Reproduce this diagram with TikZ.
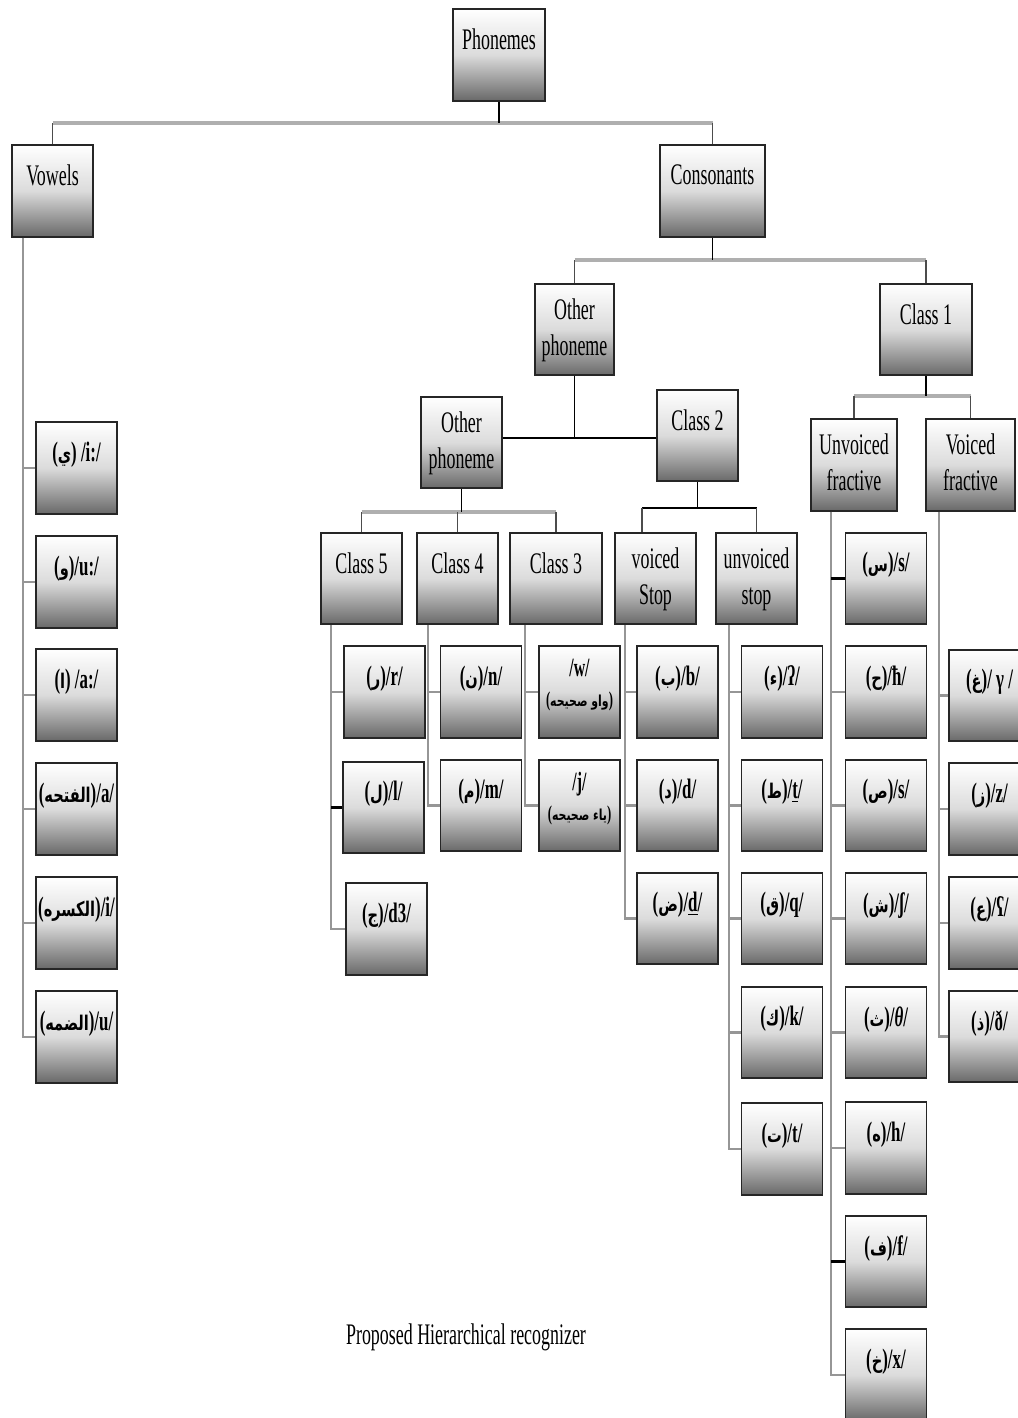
\documentclass[tikz,border=0pt]{standalone}
\usepackage{fontspec}
\setmainfont[FakeStretch=0.6]{Liberation Serif}
\newfontfamily\arabicfont[Script=Arabic, Scale=0.72, FakeStretch=0.72]{DejaVu Sans}
\TeXXeTstate=1
\usetikzlibrary{calc}
\definecolor{linegray}{RGB}{150,150,150}
\definecolor{bargray}{RGB}{175,175,175}
\definecolor{boxdark}{RGB}{105,105,105}
\newcommand{\arab}[1]{{\arabicfont\beginR #1\endR}}

\begin{document}
\begin{tikzpicture}[
  x=0.02cm, y=-0.02cm,
  box/.style={draw=black!85, line width=0.9pt, top color=white,
    bottom color=boxdark, middle color=black!14,
    minimum width=1.62cm, minimum height=1.83cm, inner sep=0pt},
  tag/.style={anchor=north, yshift=-0.33cm, align=center, inner sep=2pt,
    font=\fontsize{17}{20.5}\selectfont},
  tagtwo/.style={tag, yshift=0.1cm},
  leaftag/.style={tag, font=\fontsize{16}{19}\selectfont\bfseries},
  pairtag/.style={tag, yshift=0.14cm, font=\fontsize{15}{17}\selectfont\bfseries},
  bar/.style={draw=bargray, line width=2.2pt},
  stem/.style={draw=black, line width=0.8pt},
  drop/.style={draw=black!70, line width=0.8pt},
  rail/.style={draw=linegray, line width=1.3pt},
]
\clip[use as bounding box] (0,0) rectangle (1018,1418);
\fill[white] (0,0) rectangle (1018,1418);

% ---- upper levels ----
\node[box, minimum width=1.84cm, label={[tag]north:Phonemes}] (phon) at (499,55) {};
\node[box, label={[tag]north:Vowels}] (vow) at (52.5,191) {};
\node[box, minimum width=2.1cm, label={[tag]north:Consonants}] (cons) at (712.5,191) {};
\node[box, minimum width=1.58cm, label={[tagtwo]north:Other\\phoneme}] (oph1) at (574.5,329.5) {};
\node[box, minimum width=1.84cm, label={[tag]north:Class 1}] (cl1) at (926,329.5) {};
\node[box, label={[tagtwo]north:Other\\phoneme}] (oph2) at (461.5,442.5) {};
\node[box, label={[tag]north:Class 2}] (cl2) at (697.5,435.5) {};
\node[box, label={[tag]north:Class 5}] (cl5) at (361.5,578.5) {};
\node[box, label={[tag]north:Class 4}] (cl4) at (457.5,578.5) {};
\node[box, minimum width=1.84cm, label={[tag]north:Class 3}] (cl3) at (556,578.5) {};
\node[box, label={[tagtwo]north:voiced\\Stop}] (vst) at (655.5,578.5) {};
\node[box, label={[tagtwo]north:unvoiced\\stop}] (ust) at (756.5,578.5) {};
\node[box, minimum width=1.72cm, label={[tagtwo]north:Unvoiced\\fractive}] (ufr) at (854,465) {};
\node[box, minimum width=1.78cm, label={[tagtwo]north:Voiced\\fractive}] (vfr) at (970.5,465) {};

% ---- vowels ----
\node[box, label={[leaftag]north:(\arab{ي}) /i:/}] (v1) at (76.5,468) {};
\node[box, label={[leaftag]north:(\arab{و})/u:/}] (v2) at (76.5,582) {};
\node[box, label={[leaftag]north:(\arab{ا}) /a:/}] (v3) at (76.5,695) {};
\node[box, label={[leaftag]north:(\arab{الفتحه})/a/}] (v4) at (76.5,809) {};
\node[box, label={[leaftag]north:(\arab{الكسره})/i/}] (v5) at (76.5,923) {};
\node[box, label={[leaftag]north:(\arab{الضمه})/u/}] (v6) at (76.5,1037) {};

% ---- class 5 / 4 / 3 ----
\node[box, label={[leaftag]north:(\arab{ر})/r/}] (c5a) at (384.5,692) {};
\node[box, label={[leaftag]north:(\arab{ل})/l/}] (c5b) at (383.5,807.5) {};
\node[box, label={[leaftag]north:(\arab{ج})/d3/}] (c5c) at (386.5,929) {};
\node[box, label={[leaftag]north:(\arab{ن})/n/}] (c4a) at (481,692) {};
\node[box, label={[leaftag]north:(\arab{م})/m/}] (c4b) at (481,805.5) {};
\node[box, label={[pairtag]north:/w/\\{\fontsize{12}{14}\selectfont({\arabicfont\beginR واو صحيحه\endR})}}] (c3a) at (579.5,692) {};
\node[box, label={[pairtag]north:/j/\\{\fontsize{12}{14}\selectfont({\arabicfont\beginR ياء صحيحه\endR})}}] (c3b) at (579.5,805.5) {};

% ---- stops ----
\node[box, label={[leaftag]north:(\arab{ب})/b/}] (vsa) at (677.5,692) {};
\node[box, label={[leaftag]north:(\arab{د})/d/}] (vsb) at (677.5,805.5) {};
\node[box, label={[leaftag]north:(\arab{ض})/\underline{d}/}] (vsc) at (677.5,918.5) {};
\node[box, label={[leaftag]north:(\arab{ء})/ʔ/}] (usa) at (782,692) {};
\node[box, label={[leaftag]north:(\arab{ط})/\underline{t}/}] (usb) at (782,805.5) {};
\node[box, label={[leaftag]north:(\arab{ق})/q/}] (usc) at (782,918.5) {};
\node[box, label={[leaftag]north:(\arab{ك})/k/}] (usd) at (782,1032.5) {};
\node[box, label={[leaftag]north:(\arab{ت})/t/}] (use) at (782,1149) {};

% ---- fricatives ----
\node[box, label={[leaftag]north:(\arab{س})/s/}] (ufa) at (886,578.5) {};
\node[box, label={[leaftag]north:(\arab{ح})/ħ/}] (ufb) at (886,692) {};
\node[box, label={[leaftag]north:(\arab{ص})/s/}] (ufc) at (886,805.5) {};
\node[box, label={[leaftag]north:(\arab{ش})/ʃ/}] (ufd) at (886,918.5) {};
\node[box, label={[leaftag]north:(\arab{ث})/\textit{θ}/}] (ufe) at (886,1032.5) {};
\node[box, label={[leaftag]north:(\arab{ه})/h/}] (uff) at (886,1148) {};
\node[box, label={[leaftag]north:(\arab{ف})/f/}] (ufg) at (886,1261.5) {};
\node[box, label={[leaftag]north:(\arab{خ})/x/}] (ufh) at (886,1375) {};
\node[box, label={[leaftag]north:(\arab{غ})/ γ /}] (vfa) at (989.5,695.5) {};
\node[box, label={[leaftag]north:(\arab{ز})/z/}] (vfb) at (989.5,809) {};
\node[box, label={[leaftag]north:(\arab{ع})/ʕ/}] (vfc) at (989.5,923) {};
\node[box, label={[leaftag]north:(\arab{ذ})/ð/}] (vfd) at (989.5,1036.5) {};

\node[font=\fontsize{17}{20}\selectfont] (title) at (466,1337) {Proposed Hierarchical recognizer};

% ---- tree links ----
\coordinate (b0) at (0,123);
\draw[bar] (vow.north |- b0) -- (cons.north |- b0);
\draw[stem] (phon.south) -- (phon.south |- b0);
\draw[drop] (vow.north) -- (vow.north |- b0);
\draw[drop] (cons.north) -- (cons.north |- b0);

\coordinate (b1) at (0,260);
\draw[bar] (oph1.north |- b1) -- (cl1.north |- b1);
\draw[stem] (cons.south) -- (cons.south |- b1);
\draw[drop] (oph1.north) -- (oph1.north |- b1);
\draw[drop] (cl1.north) -- (cl1.north |- b1);

\coordinate (jn) at (574.5,438);
\draw[stem, line width=1.3pt] (oph2.east |- jn) -- (cl2.west |- jn);
\draw[stem] (oph1.south) -- (jn);

\coordinate (b2) at (0,512);
\draw[bar] (cl5.north |- b2) -- (cl3.north |- b2);
\draw[stem] (oph2.south) -- (oph2.south |- b2);
\draw[drop] (cl5.north) -- (cl5.north |- b2);
\draw[drop] (cl4.north) -- (cl4.north |- b2);
\draw[drop] (cl3.north) -- (cl3.north |- b2);

\coordinate (b3) at (0,508);
\coordinate (vtop) at ($(vst.north)+(-13.5,0)$);
\draw[stem] (vtop |- b3) -- (ust.north |- b3);
\draw[stem] (cl2.south) -- (cl2.south |- b3);
\draw[drop] (vtop) -- (vtop |- b3);
\draw[drop] (ust.north) -- (ust.north |- b3);

\coordinate (b4) at (0,396);
\draw[bar] (ufr.north |- b4) -- (vfr.north |- b4);
\draw[stem] (cl1.south) -- (cl1.south |- b4);
\draw[drop] (ufr.north) -- (ufr.north |- b4);
\draw[drop] (vfr.north) -- (vfr.north |- b4);

% ---- leaf rails ----
\coordinate (tv) at ($(vow.south west)+(12,0)$);
\draw[rail] (tv) |- (v6.west);
\draw[rail] (v1.west) -- (v1.west -| tv);
\draw[rail] (v2.west) -- (v2.west -| tv);
\draw[rail] (v3.west) -- (v3.west -| tv);
\draw[rail] (v4.west) -- (v4.west -| tv);
\draw[rail] (v5.west) -- (v5.west -| tv);

\coordinate (t5) at ($(cl5.south west)+(11,0)$);
\draw[rail] (t5) |- (c5c.west);
\draw[rail] (c5a.west) -- (c5a.west -| t5);
\draw[rail, draw=black] (c5b.west) -- (c5b.west -| t5);

\coordinate (t4) at ($(cl4.south west)+(12,0)$);
\draw[rail] (t4) |- (c4b.west);
\draw[rail] (c4a.west) -- (c4a.west -| t4);

\coordinate (t3) at ($(cl3.south west)+(16,0)$);
\draw[rail] (t3) |- (c3b.west);
\draw[rail] (c3a.west) -- (c3a.west -| t3);

\coordinate (tvs) at ($(vst.south west)+(11,0)$);
\draw[rail] (tvs) |- (vsc.west);
\draw[rail] (vsa.west) -- (vsa.west -| tvs);
\draw[rail] (vsb.west) -- (vsb.west -| tvs);

\coordinate (tus) at ($(ust.south west)+(14,0)$);
\draw[rail] (tus) |- (use.west);
\draw[rail] (usa.west) -- (usa.west -| tus);
\draw[rail] (usb.west) -- (usb.west -| tus);
\draw[rail] (usc.west) -- (usc.west -| tus);
\draw[rail] (usd.west) -- (usd.west -| tus);

\coordinate (tuf) at ($(ufr.south west)+(21,0)$);
\draw[rail] (tuf) |- (ufh.west);
\draw[rail, draw=black] (ufa.west) -- (ufa.west -| tuf);
\draw[rail] (ufb.west) -- (ufb.west -| tuf);
\draw[rail] (ufc.west) -- (ufc.west -| tuf);
\draw[rail] (ufd.west) -- (ufd.west -| tuf);
\draw[rail] (ufe.west) -- (ufe.west -| tuf);
\draw[rail] (uff.west) -- (uff.west -| tuf);
\draw[rail, draw=black] (ufg.west) -- (ufg.west -| tuf);

\coordinate (tvf) at ($(vfr.south west)+(14,0)$);
\draw[rail] (tvf) |- (vfd.west);
\draw[rail] (vfa.west) -- (vfa.west -| tvf);
\draw[rail] (vfb.west) -- (vfb.west -| tvf);
\draw[rail] (vfc.west) -- (vfc.west -| tvf);

\end{tikzpicture}
\end{document}
